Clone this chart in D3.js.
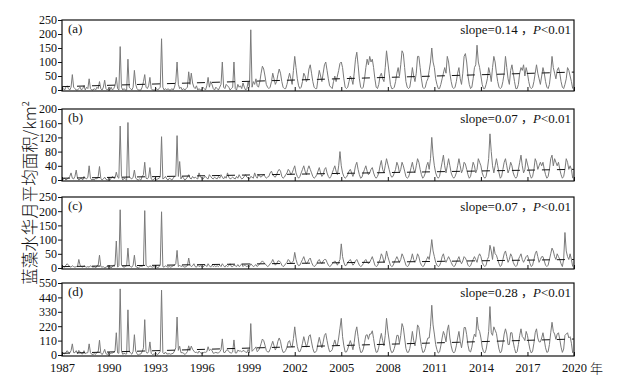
<!DOCTYPE html>
<html lang="zh">
<head>
<meta charset="utf-8">
<title>蓝藻水华月平均面积</title>
<script src="https://cdnjs.cloudflare.com/ajax/libs/d3/7.8.5/d3.min.js"></script>
<style>
  body { margin: 0; background: #fff; }
  text { font-family: "Liberation Serif", "Times New Roman", "Noto Sans CJK SC", serif; fill: #111; }
</style>
</head>
<body>
<svg id="chart" width="619" height="379"></svg>
<script>
// monthly values, Jan 1987 .. Dec 2019, one row per year
const areaA = [
  0,5,0,10,15,5,0,10,55,10,5,0,
  0,5,10,0,5,15,0,10,5,40,5,0,
  0,5,0,10,5,30,5,0,10,35,5,0,
  5,0,10,0,5,15,45,5,0,155,10,0,
  5,0,0,110,10,5,0,10,70,20,5,0,
  0,0,10,30,55,10,5,15,45,5,0,0,
  0,5,0,5,10,183,10,0,5,0,5,0,
  0,5,0,10,30,100,20,5,10,0,5,0,
  5,10,65,20,60,25,10,5,15,0,5,0,
  0,10,5,0,15,45,10,30,20,5,0,10,
  5,0,10,20,100,10,5,20,15,10,0,5,
  10,100,5,0,20,10,15,5,25,10,0,5,
  30,10,215,10,30,20,40,15,10,30,60,85,
  75,50,20,10,5,10,30,60,40,20,30,55,
  75,60,30,10,5,5,20,40,60,40,20,70,
  120,80,40,15,5,10,30,60,50,30,40,75,
  90,60,30,10,5,5,40,70,50,30,60,90,
  100,70,40,15,10,5,30,50,30,50,70,95,
  100,80,40,10,5,10,30,50,40,20,60,110,
  135,90,40,10,5,10,40,80,110,90,120,100,
  110,80,40,10,5,20,50,60,40,30,80,140,
  100,60,20,5,5,10,30,60,80,50,90,140,
  130,80,30,10,5,10,40,80,50,30,60,120,
  120,80,40,10,5,10,30,40,70,100,150,100,
  80,40,20,5,5,20,40,60,80,60,120,100,
  60,30,10,5,10,30,60,80,40,20,60,120,
  130,100,50,20,5,10,40,80,90,160,100,80,
  50,20,5,5,20,40,80,60,30,80,120,100,
  60,30,10,5,10,30,60,120,80,40,20,70,
  90,60,30,5,5,20,60,80,70,90,50,80,
  60,30,10,5,10,30,60,90,60,40,20,50,
  80,60,30,10,5,20,60,120,80,60,40,70,
  80,60,30,10,5,20,40,80,70,50,30,5
];
const areaB = [
  0,2,5,0,3,5,10,20,5,3,10,28,
  5,0,3,5,0,10,5,3,8,40,5,0,
  2,0,5,3,10,38,5,0,3,8,2,0,
  3,0,5,10,5,5,22,8,5,152,10,0,
  5,3,0,162,10,5,3,8,28,5,2,0,
  3,0,10,15,50,5,3,8,35,3,0,2,
  5,0,3,5,8,122,3,5,10,3,0,5,
  3,0,5,10,10,125,10,52,3,10,5,0,
  3,8,15,5,3,10,5,8,5,3,20,10,
  5,2,8,10,5,3,15,10,5,3,8,5,
  3,10,5,15,8,3,10,5,20,8,3,5,
  8,5,3,10,5,15,8,3,5,10,15,8,
  5,3,10,8,5,20,10,5,15,10,8,12,
  15,10,5,8,10,20,25,15,10,8,15,25,
  30,25,10,5,8,15,20,30,25,15,20,30,
  40,20,10,5,10,20,30,40,25,15,30,40,
  30,20,10,5,8,15,25,35,20,10,15,30,
  35,20,10,5,10,20,30,40,25,15,40,80,
  40,20,10,5,8,15,25,30,20,10,20,40,
  50,30,15,5,8,20,30,40,25,15,20,30,
  35,20,10,5,10,20,40,55,30,20,40,60,
  45,30,15,8,10,20,30,50,40,20,30,50,
  40,25,10,5,8,20,35,50,30,20,40,60,
  50,30,15,5,10,20,40,50,30,60,120,70,
  40,20,10,5,10,30,50,70,40,20,40,60,
  40,20,10,5,10,20,40,60,40,20,30,50,
  45,30,15,5,10,30,50,40,20,30,60,50,
  40,20,10,5,10,30,60,130,80,40,20,40,
  60,40,20,5,10,30,50,60,40,20,30,50,
  40,20,10,5,10,30,50,70,40,20,30,60,
  45,30,15,5,10,30,60,50,30,40,50,40,
  50,30,15,5,10,30,60,70,40,60,50,40,
  50,30,15,5,10,30,60,50,30,40,30,5
];
const areaC = [
  0,5,3,10,15,10,5,3,8,5,3,5,
  5,30,10,5,3,8,5,3,5,3,8,5,
  3,5,0,8,10,45,5,3,5,0,3,5,
  3,5,0,5,10,10,95,3,8,205,10,5,
  3,5,8,70,10,5,3,10,45,5,3,0,
  3,8,5,10,202,10,5,3,8,5,3,5,
  3,5,0,5,10,198,5,3,8,5,3,5,
  3,5,8,10,15,62,5,10,5,8,5,3,
  5,8,35,10,5,8,15,5,3,10,5,8,
  5,3,8,10,5,15,8,3,10,5,8,5,
  8,5,10,5,15,8,3,10,5,8,15,5,
  5,10,8,5,12,5,8,15,5,10,8,5,
  8,5,15,10,5,8,12,5,10,15,20,25,
  20,15,10,5,8,15,20,30,20,10,15,25,
  25,20,10,5,8,15,20,30,25,15,20,25,
  55,30,15,8,10,20,30,40,25,15,20,30,
  35,20,10,5,8,15,25,30,20,15,25,30,
  30,20,10,5,8,15,20,25,20,10,20,30,
  85,40,20,8,10,20,25,30,20,10,15,25,
  30,20,10,5,8,15,25,30,20,15,20,30,
  40,25,10,5,8,20,30,50,40,20,30,60,
  40,25,10,5,8,20,30,40,30,20,30,50,
  40,25,10,5,8,20,30,50,30,20,30,50,
  40,20,10,5,8,20,30,40,30,60,100,60,
  40,20,10,5,8,20,40,50,30,20,30,40,
  30,20,10,5,8,20,30,40,25,15,25,40,
  35,25,10,5,8,20,30,40,30,20,40,50,
  40,20,10,5,10,30,40,80,60,30,75,50,
  45,30,15,5,10,30,50,60,40,20,30,50,
  40,20,10,5,10,30,40,50,30,20,30,40,
  45,30,15,5,10,30,50,60,40,20,30,40,
  40,25,10,5,10,30,50,70,60,40,30,50,
  40,30,15,5,30,125,60,40,30,50,30,5
];
const areaD = [
  5,12,8,20,33,20,15,33,85,18,18,33,
  10,35,23,10,8,33,10,16,18,85,18,5,
  5,10,5,21,25,113,15,3,18,43,10,5,
  11,5,15,15,20,30,170,16,13,505,30,5,
  13,8,8,345,30,15,6,28,155,30,10,0,
  6,8,25,55,270,25,13,26,100,13,3,7,
  8,10,3,15,28,495,18,8,23,8,8,10,
  6,10,13,30,55,290,35,67,18,18,15,3,
  13,26,70,35,68,43,30,18,23,13,30,18,
  10,15,21,20,25,63,33,43,35,13,16,20,
  16,15,25,40,123,21,18,35,40,26,18,15,
  23,115,16,15,37,30,31,23,35,30,23,18,
  43,18,240,28,40,48,62,25,35,55,88,122,
  110,75,35,23,23,45,75,105,70,38,60,105,
  130,105,50,20,21,35,60,100,110,70,60,125,
  215,130,65,28,25,50,90,140,100,60,90,145,
  155,100,50,20,21,35,90,135,90,55,100,150,
  165,110,60,25,28,40,80,115,75,75,130,205,
  280,140,70,23,23,45,80,110,80,40,95,175,
  215,140,65,20,21,45,95,150,155,120,160,160,
  185,125,60,20,23,60,120,165,110,70,150,280,
  185,115,45,18,23,50,90,150,150,90,150,240,
  210,130,50,20,21,50,105,180,110,70,130,230,
  210,130,65,20,23,50,100,130,130,220,380,230,
  160,80,40,15,23,70,130,180,150,100,190,230,
  130,70,30,15,28,70,130,180,105,55,115,210,
  210,155,75,30,23,60,120,160,140,290,200,180,
  130,60,25,15,40,100,180,370,170,150,215,190,
  165,100,45,15,30,90,160,200,160,80,80,170,
  170,100,50,15,25,80,150,200,140,130,110,180,
  150,90,40,15,30,90,170,200,130,100,100,130,
  170,115,55,20,25,80,170,250,180,160,120,160,
  170,120,60,20,45,150,160,170,130,140,90,15
];

const panelNames = ["(a)", "(b)", "(c)", "(d)"];
const slopeValues = ["0.14", "0.07", "0.07", "0.28"];
const yTickValues = [
  [0, 50, 100, 150, 200, 250],
  [0, 40, 80, 120, 160, 200],
  [0, 50, 100, 150, 200, 250],
  [0, 110, 220, 330, 440, 550]
];
const trendStart = [12, 5, 5, 13];
const trendEnd = [64, 30, 30, 122];
const xTickYears = [1987, 1990, 1993, 1996, 1999, 2002, 2005, 2008, 2011, 2014, 2017, 2020];
const startYear = 1987, endYear = 2020;
const yLabel = "蓝藻水华月平均面积/km";

const series = [areaA, areaB, areaC, areaD];
const panelTop = [20, 109, 197, 283];
const panelBottom = [91, 181, 269, 356];
const left = 62, right = 574;

const svg = d3.select("#chart");
svg.append("rect").attr("width", 619).attr("height", 379).attr("fill", "#fff");

const x = d3.scaleLinear().domain([startYear, endYear]).range([left, right]);

series.forEach((vals, p) => {
  const ticks = yTickValues[p];
  const y = d3.scaleLinear()
    .domain([0, ticks[ticks.length - 1]])
    .range([panelBottom[p] - 1, panelTop[p]]);
  const g = svg.append("g");

  const line = d3.line()
    .x((d, i) => x(startYear + i / 12))
    .y(d => y(d));

  g.append("path")
    .datum(vals)
    .attr("d", line)
    .attr("fill", "none")
    .attr("stroke", "#7a7a7a")
    .attr("stroke-width", 1)
    .attr("stroke-linejoin", "round");

  // trend
  g.append("line")
    .attr("x1", x(startYear)).attr("x2", x(endYear))
    .attr("y1", y(trendStart[p])).attr("y2", y(trendEnd[p]))
    .attr("stroke", "#111")
    .attr("stroke-width", 1)
    .attr("stroke-dasharray", "8,7");

  // y axis
  const yAxis = d3.axisLeft(y).tickValues(ticks).tickSize(4).tickPadding(1).tickFormat(d3.format("d"));
  g.append("g")
    .attr("transform", `translate(${left},0)`)
    .call(yAxis)
    .call(a => a.select(".domain").remove())
    .call(a => a.selectAll("line").attr("stroke", "#111"))
    .call(a => a.selectAll("text")
      .attr("font-size", 12)
      .style("font-family", "'Liberation Serif', serif")
      .attr("fill", "#111"));

  // x ticks (inside)
  const xAxis = d3.axisTop(x).tickValues(xTickYears).tickSize(4).tickFormat("");
  g.append("g")
    .attr("transform", `translate(0,${panelBottom[p]})`)
    .call(xAxis)
    .call(a => a.select(".domain").remove())
    .call(a => a.selectAll("line").attr("stroke", "#111"));

  // frame
  g.append("rect")
    .attr("x", left).attr("y", panelTop[p])
    .attr("width", right - left).attr("height", panelBottom[p] - panelTop[p])
    .attr("fill", "none").attr("stroke", "#111").attr("stroke-width", 1.2);

  g.append("text")
    .attr("x", left + 6).attr("y", panelTop[p] + 13)
    .attr("font-size", 13)
    .text(panelNames[p]);

  const st = g.append("text")
    .attr("x", right - 3).attr("y", panelTop[p] + 14)
    .attr("text-anchor", "end")
    .attr("font-size", 13);
  st.append("tspan").text(`slope=${slopeValues[p]} `);
  st.append("tspan").style("font-family", "'Noto Sans CJK SC', sans-serif").attr("font-size", 12).text("，");
  st.append("tspan").attr("font-style", "italic").text("P");
  st.append("tspan").text("<0.01");

  if (p === 3) {
    const xl = d3.axisBottom(x).tickValues(xTickYears).tickSize(0).tickPadding(7).tickFormat(d3.format("d"));
    svg.append("g")
      .attr("transform", `translate(0,${panelBottom[p]})`)
      .call(xl)
      .call(a => a.select(".domain").remove())
      .call(a => a.selectAll("text")
        .attr("font-size", 12.5)
        .style("font-family", "'Liberation Serif', serif")
        .attr("fill", "#111"));
    svg.append("text")
      .attr("x", 590).attr("y", panelBottom[p] + 17)
      .attr("font-size", 13)
      .style("font-family", "'Noto Sans CJK SC', sans-serif")
      .attr("font-weight", 300)
      .text("年");
  }
});

const yl = svg.append("text")
  .attr("transform", "translate(36,193) rotate(-90)")
  .attr("text-anchor", "middle")
  .attr("font-size", 16.5)
  .attr("font-weight", 300)
  .style("font-family", "'Noto Sans CJK SC', 'Liberation Serif', serif");
yl.append("tspan").text(yLabel);
yl.append("tspan").attr("font-size", 10).attr("dy", -7).style("font-family", "'Liberation Serif', serif").text("2");
</script>
</body>
</html>
